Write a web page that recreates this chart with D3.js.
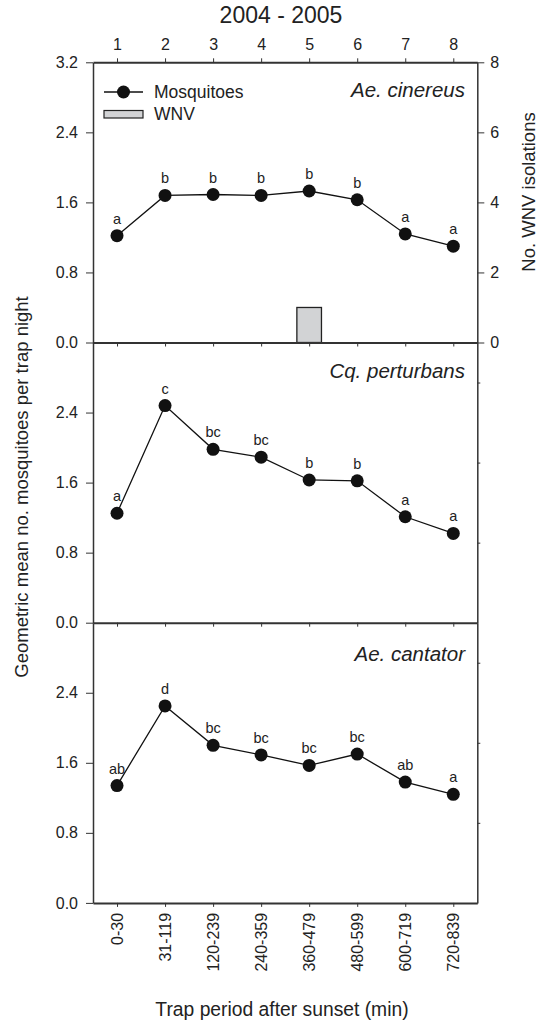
<!DOCTYPE html>
<html>
<head>
<meta charset="utf-8">
<script src="https://cdn.jsdelivr.net/npm/d3@7"></script>
<style>
  body { margin: 0; background: #fff; }
  svg { display: block; font-family: "Liberation Sans", Arial, sans-serif; }
  .axis text { fill: #222; }
  .axis path, .axis line { stroke: #333; }
</style>
</head>
<body>
<div id="chart"></div>
<script>
// trap periods (top axis numbers) and their time windows (bottom labels)
var periods = [1, 2, 3, 4, 5, 6, 7, 8];
var periodLabels = ['0-30', '31-119', '120-239', '240-359', '360-479', '480-599', '600-719', '720-839'];

// geometric mean no. mosquitoes per trap night
var cinereus = [1.22, 1.68, 1.69, 1.68, 1.73, 1.63, 1.24, 1.10];
var perturbans = [1.25, 2.48, 1.98, 1.89, 1.63, 1.62, 1.21, 1.02];
var cantator = [1.34, 2.25, 1.80, 1.69, 1.57, 1.70, 1.38, 1.24];

// significance letters
var cinereusLetters = ['a', 'b', 'b', 'b', 'b', 'b', 'a', 'a'];
var perturbansLetters = ['a', 'c', 'bc', 'bc', 'b', 'b', 'a', 'a'];
var cantatorLetters = ['ab', 'd', 'bc', 'bc', 'bc', 'bc', 'ab', 'a'];

// WNV isolations (Ae. cinereus only)
var wnv = [0, 0, 0, 0, 1, 0, 0, 0];

var panels = [
  { name: 'Ae. cinereus', values: cinereus, letters: cinereusLetters },
  { name: 'Cq. perturbans', values: perturbans, letters: perturbansLetters },
  { name: 'Ae. cantator', values: cantator, letters: cantatorLetters }
];

var W = 549, H = 1021;
var plotLeft = 93, plotRight = 477.3, plotTop = 62.3, panelH = 280.2;

var svg = d3.select('#chart').append('svg')
  .attr('width', W).attr('height', H);

var x = d3.scaleLinear().domain([0.5, 8.5]).range([plotLeft, plotRight]);

panels.forEach(function(p, i) {
  var y0 = plotTop + i * panelH;
  var y1 = y0 + panelH;
  var y = d3.scaleLinear().domain([0, 3.2]).range([y1, y0]);
  var g = svg.append('g');

  // WNV bars on the first panel
  if (i === 0) {
    var yr = d3.scaleLinear().domain([0, 8]).range([y1, y0]);
    g.selectAll('rect.wnv').data(periods.filter(function(d, j) { return wnv[j] > 0; }))
      .enter().append('rect')
      .attr('class', 'wnv')
      .attr('x', function(d) { return x(d) - 12.3; })
      .attr('width', 24.6)
      .attr('y', function(d) { return yr(wnv[d - 1]); })
      .attr('height', function(d) { return y1 - yr(wnv[d - 1]); })
      .attr('fill', '#d2d3d5')
      .attr('stroke', '#222')
      .attr('stroke-width', 1.3);

    g.append('g').attr('class', 'axis')
      .attr('transform', 'translate(' + plotRight + ',0)')
      .call(d3.axisRight(yr).tickValues([0, 2, 4, 6, 8]).tickSize(7).tickPadding(6).tickSizeOuter(0))
      .call(function(a) { a.selectAll('text').attr('font-size', 16); a.select('.domain').attr('stroke-width', 1.5); });

    g.append('g').attr('class', 'axis')
      .attr('transform', 'translate(0,' + y0 + ')')
      .call(d3.axisTop(x).tickValues(periods).tickSize(4).tickPadding(8).tickSizeOuter(0))
      .call(function(a) {
        a.selectAll('text').attr('font-size', 16);
        a.select('.domain').attr('stroke-width', 2).attr('stroke', '#111');
      });
  } else {
    var yq = d3.scaleLinear().domain([0, 7]).range([y1, y0]);
    g.append('g').attr('class', 'axis')
      .attr('transform', 'translate(' + plotRight + ',0)')
      .call(d3.axisRight(yq).tickValues([2, 4, 6]).tickSize(3).tickFormat('').tickSizeOuter(0))
      .call(function(a) { a.select('.domain').attr('stroke-width', 1.5); });
  }

  // left axis
  g.append('g').attr('class', 'axis')
    .attr('transform', 'translate(' + plotLeft + ',0)')
    .call(d3.axisLeft(y).tickValues(i === 0 ? [0, 0.8, 1.6, 2.4, 3.2] : [0, 0.8, 1.6, 2.4])
      .tickFormat(d3.format('.1f')).tickSize(7).tickPadding(8).tickSizeOuter(0))
    .call(function(a) { a.selectAll('text').attr('font-size', 16); a.select('.domain').attr('stroke-width', 1.5); });

  // bottom axis
  var bx = g.append('g').attr('class', 'axis')
    .attr('transform', 'translate(0,' + y1 + ')')
    .call(d3.axisBottom(x).tickValues(periods).tickSize(4).tickPadding(8).tickSizeOuter(0)
      .tickFormat(function(d) { return i === 2 ? periodLabels[d - 1] : ''; }));
  bx.select('.domain').attr('stroke-width', 2).attr('stroke', '#111');
  if (i === 2) {
    bx.selectAll('text')
      .attr('font-size', 16)
      .attr('text-anchor', 'end')
      .attr('dy', '0.35em')
      .attr('transform', 'rotate(-90)')
      .attr('x', -10).attr('y', 0);
  }

  // mosquito line + points
  var line = d3.line()
    .x(function(d, j) { return x(periods[j]); })
    .y(function(d) { return y(d); });

  g.append('path').datum(p.values)
    .attr('d', line)
    .attr('fill', 'none')
    .attr('stroke', '#111')
    .attr('stroke-width', 1.3);

  g.selectAll('circle.pt').data(p.values).enter().append('circle')
    .attr('class', 'pt')
    .attr('cx', function(d, j) { return x(periods[j]); })
    .attr('cy', function(d) { return y(d); })
    .attr('r', 6.5)
    .attr('fill', '#111');

  g.selectAll('text.lbl').data(p.values).enter().append('text')
    .attr('class', 'lbl')
    .attr('x', function(d, j) { return x(periods[j]); })
    .attr('y', function(d) { return y(d) - 12; })
    .attr('text-anchor', 'middle')
    .attr('font-size', 14.5)
    .attr('fill', '#222')
    .text(function(d, j) { return p.letters[j]; });

  g.append('text')
    .attr('x', 465)
    .attr('y', y0 + [35, 35, 38][i])
    .attr('text-anchor', 'end')
    .attr('font-size', 20.5)
    .attr('font-style', 'italic')
    .attr('fill', '#222')
    .text(p.name);
});

// legend
var lg = svg.append('g');
lg.append('line').attr('x1', 104).attr('x2', 143).attr('y1', 92).attr('y2', 92)
  .attr('stroke', '#111').attr('stroke-width', 1.3);
lg.append('circle').attr('cx', 123.5).attr('cy', 92).attr('r', 6.5).attr('fill', '#111');
lg.append('text').attr('x', 154).attr('y', 98).attr('font-size', 17.5).attr('fill', '#222').text('Mosquitoes');
lg.append('rect').attr('x', 104).attr('y', 110.5).attr('width', 39).attr('height', 7.5)
  .attr('fill', '#d2d3d5').attr('stroke', '#222').attr('stroke-width', 1.2);
lg.append('text').attr('x', 154).attr('y', 120).attr('font-size', 17.5).attr('fill', '#222').text('WNV');

// titles
svg.append('text').attr('x', 281).attr('y', 22.5).attr('text-anchor', 'middle')
  .attr('font-size', 23).attr('fill', '#222').text('2004 - 2005');

svg.append('text').attr('transform', 'translate(28,487) rotate(-90)')
  .attr('text-anchor', 'middle').attr('font-size', 18.5).attr('fill', '#222')
  .text('Geometric mean no. mosquitoes per trap night');

svg.append('text').attr('transform', 'translate(535,192) rotate(-90)')
  .attr('text-anchor', 'middle').attr('font-size', 18.5).attr('fill', '#222')
  .text('No. WNV isolations');

svg.append('text').attr('x', 282).attr('y', 1016).attr('text-anchor', 'middle')
  .attr('font-size', 19.3).attr('fill', '#222')
  .text('Trap period after sunset (min)');
</script>
</body>
</html>
